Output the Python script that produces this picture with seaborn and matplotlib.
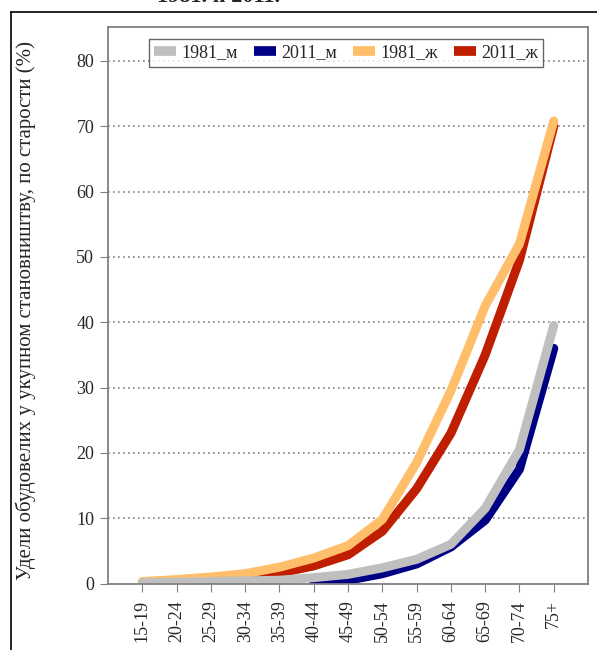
import numpy as np
import pandas as pd
import matplotlib
matplotlib.use("Agg")
import matplotlib.pyplot as plt
from matplotlib.lines import Line2D
import seaborn as sns

# age groups
cats = ["15-19", "20-24", "25-29", "30-34", "35-39", "40-44", "45-49",
        "50-54", "55-59", "60-64", "65-69", "70-74", "75+"]

# share of widowed in total population, %
m_1981 = [0.1, 0.2, 0.3, 0.4, 0.5, 0.9, 1.4, 2.4, 3.7, 6.0, 11.5, 20.5, 39.5]
m_2011 = [np.nan, np.nan, np.nan, np.nan, np.nan, 0.0, 0.5, 1.5, 3.0, 5.6, 9.7, 17.5, 36.0]
f_1981 = [0.3, 0.6, 1.0, 1.5, 2.5, 3.9, 5.8, 9.8, 18.5, 29.5, 42.5, 52.0, 70.8]
f_2011 = [0.0, 0.0, 0.1, 0.4, 1.6, 2.7, 4.4, 8.0, 14.5, 23.0, 35.0, 49.5, 70.0]

names = ["1981_м", "2011_м", "1981_ж", "2011_ж"]
colors = {"1981_м": "#BFBFBF", "2011_м": "#000085",
          "1981_ж": "#FFBE6A", "2011_ж": "#C01E00"}

df = pd.DataFrame({"pos": np.arange(len(cats)), "1981_м": m_1981, "2011_м": m_2011,
                   "1981_ж": f_1981, "2011_ж": f_2011})

sns.set_style("white")
plt.rcParams["font.family"] = ["Liberation Serif", "DejaVu Serif"]

fig = plt.figure(figsize=(5.97, 6.5), dpi=100)
ax = fig.add_axes([0.181, 0.1023, 0.804, 0.8562])

# drawing order: red lowest, gray on top
for name in ["2011_ж", "2011_м", "1981_ж", "1981_м"]:
    sns.lineplot(data=df, x="pos", y=name, ax=ax, color=colors[name], lw=6.5,
                 solid_capstyle="round", solid_joinstyle="round", legend=False)

ax.set_xlim(-1, 13)
ax.set_ylim(0, 85.2)
ax.set_yticks(range(0, 81, 10))
ax.set_xticks(df["pos"])
ax.set_xticklabels(cats, rotation=90, fontsize=13)
ax.tick_params(axis="y", labelsize=13, length=6, color="#808080", direction="out", pad=4)
ax.tick_params(axis="x", length=6, color="#808080", direction="out", pad=6)
ax.tick_params(left=True, bottom=True)
ax.set_xlabel("")
ax.set_ylabel("Удели обудовелих у укупном становништву, по старости (%)", fontsize=15)
ax.yaxis.set_label_coords(-0.15, 0.49)

for v in range(10, 81, 10):
    ax.axhline(v, color="#808080", lw=1.2, ls=(0, (1, 2)), zorder=0)

for s in ax.spines.values():
    s.set_color("#808080")
    s.set_linewidth(1.3)

handles = [Line2D([], [], color=colors[n], lw=7, solid_capstyle="butt") for n in names]
leg = ax.legend(handles, names, loc="upper center", bbox_to_anchor=(0.496, 0.985), ncol=4,
                fontsize=13, frameon=True, fancybox=False, handlelength=1.2,
                handletextpad=0.3, columnspacing=0.9, borderpad=0.3, borderaxespad=0.2)
leg.get_frame().set_edgecolor("#404040")
leg.get_frame().set_linewidth(1.0)

# outer frame of the original figure
fig.add_artist(Line2D([0.018, 0.018], [0.0, 0.981], color="black", lw=1.2))
fig.add_artist(Line2D([0.018, 1.0], [0.981, 0.981], color="black", lw=1.2))
# title of the original, cut off at the top edge as in the source image
fig.text(0.263, 0.997, "1981. и 2011.", fontsize=16, fontweight="bold", va="baseline")

fig.savefig("out.png", dpi=100)
